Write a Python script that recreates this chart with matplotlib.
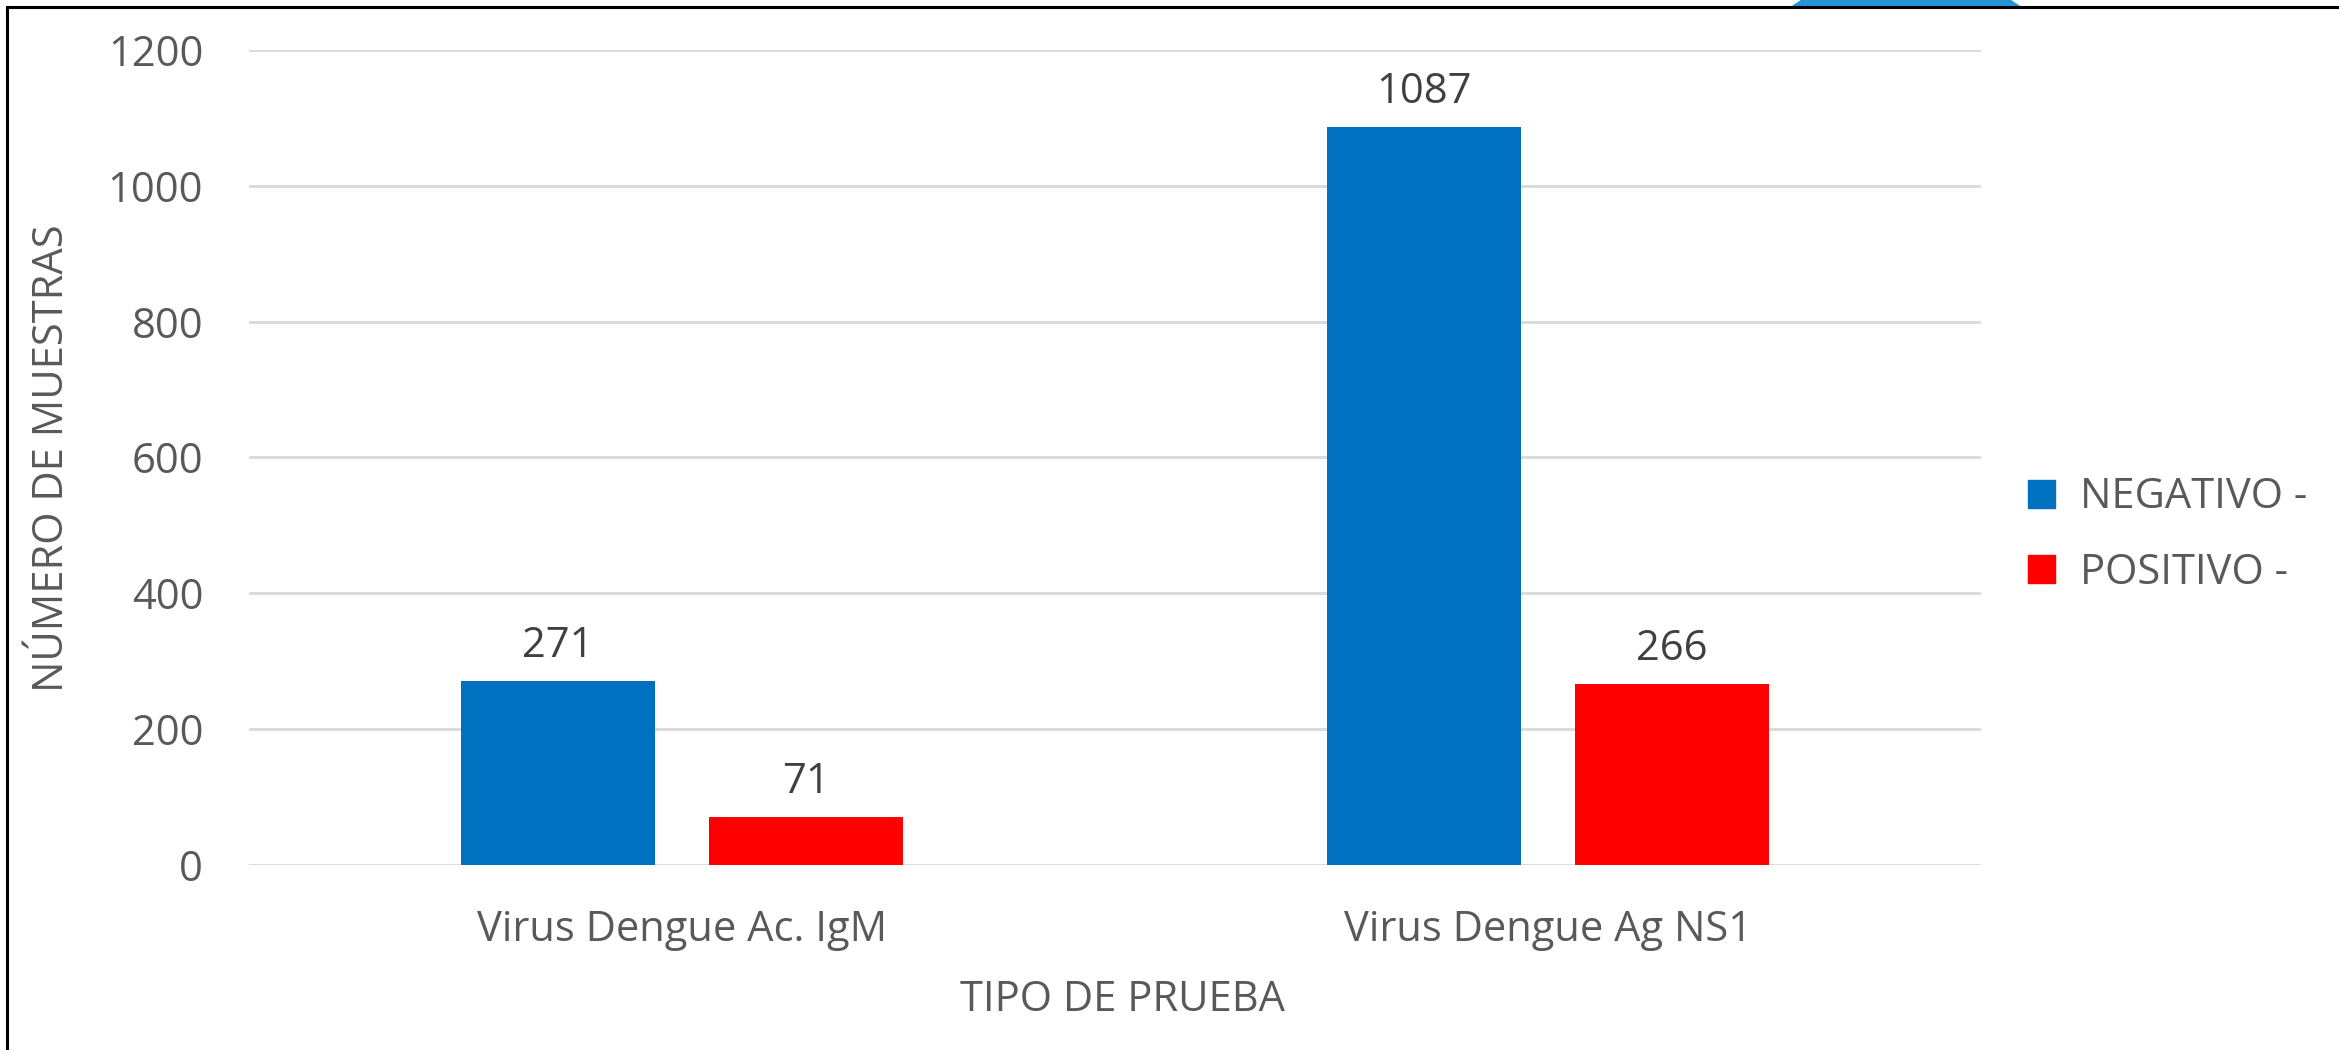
import matplotlib
matplotlib.use("Agg")
import matplotlib.pyplot as plt
import numpy as np
from matplotlib.patches import Circle, Rectangle, Patch
from matplotlib.lines import Line2D

categories = ["Virus Dengue Ac. IgM", "Virus Dengue Ag NS1"]
series_names = ["NEGATIVO -", "POSITIVO -"]
negativo = [271, 1087]
positivo = [71, 266]
yticks = [0, 200, 400, 600, 800, 1000, 1200]

plt.rcParams['font.family'] = ['Open Sans', 'DejaVu Sans']
TXT = '#595959'
FS = 30

W, H = 2339, 1050
fig = plt.figure(figsize=(W/100, H/100), dpi=100)
ax = fig.add_axes([249/W, 1-865/H, (1981-249)/W, (865-50)/H])

x = np.arange(len(categories))
bw = 0.224
off = 0.143
colors = ['#0070C0', '#FF0000']
for vals, o, c in [(negativo, -off, colors[0]), (positivo, off, colors[1])]:
    bars = ax.bar(x + o, vals, width=bw, color=c, zorder=3)
    for b, v in zip(bars, vals):
        ax.annotate(str(v), (b.get_x() + b.get_width()/2, v), xytext=(0, 10),
                    textcoords='offset points', ha='center', va='bottom',
                    fontsize=FS, color='#404040')

ax.set_xlim(-0.5, 1.5)
ax.set_ylim(0, 1200)
ax.set_yticks(yticks)
ax.set_yticklabels([str(t) for t in yticks])
ax.set_xticks(x)
ax.set_xticklabels(categories)
ax.tick_params(axis='both', length=0, labelsize=FS, colors=TXT)
ax.tick_params(axis='y', pad=33)
ax.tick_params(axis='x', pad=32)
ax.grid(axis='y', color='#D9D9D9', linewidth=2, zorder=0)
for s in ax.spines.values():
    s.set_visible(False)

fig.text(52/W, 1-458/H, "NÚMERO DE MUESTRAS", rotation=90, ha='center', va='center',
         fontsize=FS, color=TXT)
fig.text(1123/W, 1-1000/H, "TIPO DE PRUEBA", ha='center', va='center',
         fontsize=FS, color=TXT)

# legend
handles = [Patch(color=colors[0]), Patch(color=colors[1])]
leg = fig.legend(handles, series_names, loc='center left',
                 bbox_to_anchor=(1990/W, 1-535/H), frameon=False,
                 fontsize=FS, labelcolor=TXT, handlelength=0.65, handleheight=0.65,
                 handletextpad=0.6, labelspacing=0.8)

# frame lines (left and top)
fig.add_artist(Line2D([7/W, 7/W], [0, 1-7/H], color='black', linewidth=2.2))
fig.add_artist(Line2D([7/W, 1], [1-7/H, 1-7/H], color='black', linewidth=2.2))
# blue decorative shape at top (only the part above the frame line shows)
circ = Circle((1906, H-165), 195, color='#2893D3', transform=None, zorder=0)
clip = Rectangle((0, H-7), W, 7, transform=None)
fig.add_artist(circ)
circ.set_clip_path(clip)

fig.savefig("out.png", dpi=100)
